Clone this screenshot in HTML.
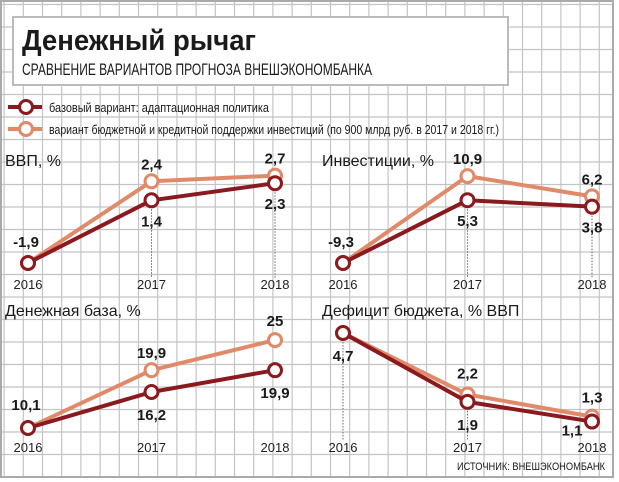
<!DOCTYPE html>
<html><head><meta charset="utf-8"><style>
html,body{margin:0;padding:0;background:#fff}
svg{display:block;font-family:"Liberation Sans",sans-serif}
.yr{font-size:13px;fill:#222}
.val{font-size:15px;font-weight:bold;fill:#1a1a1a}
.pt{font-size:15px;fill:#1a1a1a}
</style></head><body>
<svg id="c" width="619" height="482" viewBox="0 0 619 482">
<g id="grid"></g>
<rect x="13" y="17" width="495" height="68" fill="#fff" stroke="#bbb" stroke-width="2"/>
<text x="22" y="50" font-size="29" font-weight="bold" fill="#1a1a1a" textLength="234" lengthAdjust="spacingAndGlyphs">Денежный рычаг</text>
<text x="22" y="75" font-size="17" fill="#1a1a1a" textLength="350" lengthAdjust="spacingAndGlyphs">СРАВНЕНИЕ ВАРИАНТОВ ПРОГНОЗА ВНЕШЭКОНОМБАНКА</text>
<g>
<g>
<line x1="8" y1="107" x2="42" y2="107" stroke="#8b1a1f" stroke-width="4"/>
<circle cx="26" cy="107" r="6.5" fill="#fff" stroke="#8b1a1f" stroke-width="3"/>
<text x="49" y="112" font-size="13" fill="#1a1a1a" textLength="220" lengthAdjust="spacingAndGlyphs">базовый вариант: адаптационная политика</text>
</g>
<g>
<line x1="8" y1="129" x2="42" y2="129" stroke="#e08a6a" stroke-width="4"/>
<circle cx="26" cy="129" r="6.5" fill="#fff" stroke="#e08a6a" stroke-width="3"/>
<text x="49" y="134" font-size="13" fill="#1a1a1a" textLength="450" lengthAdjust="spacingAndGlyphs">вариант бюджетной и кредитной поддержки инвестиций (по 900 млрд руб. в 2017 и 2018 гг.)</text>
</g>
</g>
<text x="5" y="166" font-size="16" fill="#1a1a1a">ВВП, %</text>
<text x="322" y="166" font-size="16" fill="#1a1a1a">Инвестиции, %</text>
<text x="5" y="316" font-size="16" fill="#1a1a1a">Денежная база, %</text>
<text x="322" y="316" font-size="16" fill="#1a1a1a">Дефицит бюджета, % ВВП</text>
<text x="605" y="470" font-size="11" fill="#1a1a1a" text-anchor="end" textLength="148" lengthAdjust="spacingAndGlyphs">ИСТОЧНИК: ВНЕШЭКОНОМБАНК</text>
<g id="panels"></g>
</svg>
<script>
const years = ["2016","2017","2018"];
const gdpBase = [-1.9, 1.4, 2.3];
const gdpSupport = [-1.9, 2.4, 2.7];
const invBase = [-9.3, 5.3, 3.8];
const invSupport = [-9.3, 10.9, 6.2];
const mbBase = [10.1, 16.2, 19.9];
const mbSupport = [10.1, 19.9, 25];
const defBase = [4.7, 1.9, 1.1];
const defSupport = [4.7, 2.2, 1.3];

const NS = "http://www.w3.org/2000/svg";
function mk(tag, attrs, parent){const e=document.createElementNS(NS,tag);for(const k in attrs)e.setAttribute(k,attrs[k]);parent.appendChild(e);return e;}
const grid=document.getElementById('grid');
mk('rect',{x:0,y:0,width:619,height:482,fill:'#fff'},grid);
for(let x=4.1;x<615;x+=19.2){const l=mk('line',{x1:x,y1:0,x2:x,y2:478,stroke:'#c4c4c4','stroke-width':1.2},grid);

}
for(let y=4.5;y<480;y+=22.5){const l=mk('line',{x1:0,y1:y,x2:614,y2:y,stroke:'#c4c4c4','stroke-width':1.2},grid);

}
const fr=mk('rect',{x:1,y:1,width:612,height:476,fill:'none',stroke:'#aaa','stroke-width':2},grid);



const panels=document.getElementById('panels');
// cfg: x positions of years, value->y mapping (v0,y0,slope), year label y, label offsets, drop lines
function panel(name, xs, v0, y0, k, yrY, base, sup, offB, offS, drops, dropBottom){
  const g=mk('g',{},panels);
  
  
  const X=i=>xs[0]+(xs[2]-xs[0])*i/2;
  const Y=v=>y0-(v-v0)*k;
  drops.forEach(i=>{
    const d=mk('line',{x1:X(i),y1:Y(base[i])+6,x2:X(i),y2:dropBottom,stroke:'#666','stroke-width':1,'stroke-dasharray':'1.5,1.5'},g);
    
    
  });
  years.forEach((yr,i)=>{
    const t=mk('text',{x:X(i),y:yrY,'text-anchor':'middle',class:'yr'},g);t.textContent=yr;
    
    
  });
  [[sup,'#e08a6a','support'],[base,'#8b1a1f','base']].forEach(([arr,col,s])=>{
    const pl=mk('polyline',{points:arr.map((v,i)=>X(i)+','+Y(v)).join(' '),fill:'none',stroke:col,'stroke-width':4,'stroke-linejoin':'round'},g);
    
    
    arr.forEach((v,i)=>{
      const c=mk('circle',{cx:X(i),cy:Y(v),r:6.5,fill:'#fff',stroke:col,'stroke-width':3},g);
      
      
    });
  });
  const lab=(arr,offs,s)=>arr.forEach((v,i)=>{
    if(!offs[i])return;
    const t=mk('text',{x:X(i)+offs[i][0],y:Y(v)+offs[i][1],'text-anchor':'middle',class:'val'},g);
    t.textContent=String(v).replace('.',',');
    
    
  });
  lab(base,offB,'base');lab(sup,offS,'support');
}
panel('gdp',[28,152,275],-1.9,263,19,289,gdpBase,gdpSupport,[[-2,-16],[0,26],[0,26]],[null,[0,-12],[0,-12]],[1,2],278);
panel('investment',[343,467,592],-9.3,263,4.3,289,invBase,invSupport,[[-2,-16],[0,26],[0,26]],[null,[0,-12],[0,-12]],[1,2],278);
panel('money-base',[28,152,275],10.1,428,5.9,452,mbBase,mbSupport,[[-2,-18],[0,28],[0,28]],[null,[0,-12],[0,-14]],[],0);
panel('deficit',[343,467,592],4.7,333,24.6,452,defBase,defSupport,[[0,28],[0,28],[-20,14]],[null,[0,-16],[0,-14]],[0,1],440);
</script>
</body></html>
